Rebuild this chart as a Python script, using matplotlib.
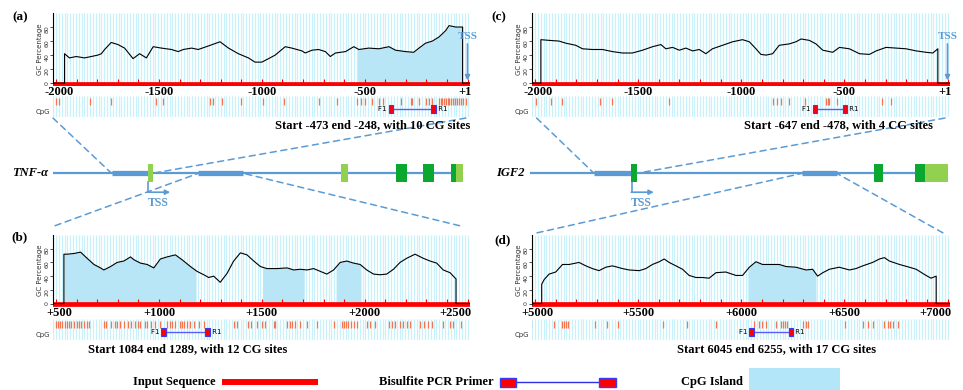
import numpy as np
import matplotlib.pyplot as plt
from matplotlib.patches import Rectangle, ConnectionPatch

W, H = 963, 390
SERIF = 'Liberation Serif'
BLUE = '#5b9bd5'
STRIPE = '#c9f1fb'
ISLAND = '#b9e6f6'
CPG_RED = '#f47650'
EXON_COL = {'coding': '#0aa82e', 'utr': '#92d050'}

# ---- (a) TNF-a promoter, -2000..+1 ----
a_pos = [-1959, -1935, -1902, -1862, -1829, -1797, -1780, -1764, -1732, -1699,
         -1667, -1626, -1594, -1561, -1528, -1488, -1439, -1406, -1382, -1341,
         -1309, -1260, -1203, -1162, -1114, -1065, -1033, -1000, -967, -935,
         -886, -854, -805, -789, -756, -724, -691, -667, -642, -593,
         -553, -528, -480, -431, -382, -350, -301, -262, -236, -204,
         -171, -138, -106, -90, -57, -24]
a_gc = [42, 36, 38, 36, 38, 40, 42, 48, 58, 55,
        50, 35, 42, 36, 52, 50, 48, 45, 48, 50,
        48, 53, 59, 50, 42, 36, 30, 30, 35, 40,
        52, 50, 46, 43, 47, 48, 45, 38, 43, 45,
        52, 48, 50, 49, 52, 47, 45, 44, 50, 57,
        60, 66, 75, 82, 80, 80]
a_islands = [(-537, -24)]
a_cpg = [-2000, -1984, -1837, -1732, -1512, -1480, -1252, -1236, -1195, -1102,
         -992, -894, -724, -634, -537, -520, -496, -463, -430, -410, -325, -277,
         -268, -236, -203, -187, -171, -138, -130, -122, -114, -106, -96, -88,
         -80, -70, -62, -52, -40, -30, -20, -8]
a_primer = (-382, -363, -176, -155)
a_ticks = [-2000, -1500, -1000, -500, 0]
a_labels = ['-2000', '-1500', '-1000', '-500', '+1']
a_note = 'Start -473 end -248, with 10 CG sites'

# ---- (b) TNF-a gene body, +500..+2500 ----
b_pos = [538, 554, 587, 619, 651, 684, 716, 732, 765, 797,
         829, 862, 878, 910, 943, 975, 1007, 1039, 1080, 1112,
         1153, 1185, 1218, 1242, 1266, 1298, 1331, 1363, 1396, 1428,
         1461, 1493, 1525, 1574, 1623, 1655, 1687, 1720, 1752, 1784,
         1816, 1849, 1881, 1913, 1946, 1978, 2010, 2043, 2075, 2107,
         2140, 2172, 2204, 2245, 2285, 2318, 2350, 2382, 2415, 2434, 2444]
b_gc = [72, 72, 73, 75, 66, 57, 52, 49, 54, 60,
        62, 68, 64, 59, 57, 52, 65, 68, 71, 64,
        54, 47, 42, 38, 40, 31, 44, 62, 74, 71,
        62, 54, 51, 51, 52, 49, 50, 49, 51, 47,
        43, 49, 60, 62, 59, 57, 49, 43, 42, 43,
        50, 60, 66, 72, 66, 62, 59, 49, 45, 39, 36]
b_islands = [(538, 1180), (1504, 1706), (1861, 1982)]
b_cpg = [498, 509, 519, 530, 541, 551, 562, 574, 587, 600, 611, 622, 635, 648, 659,
         735, 745, 765, 784, 797, 813, 829, 849, 862, 886, 897, 910, 930, 943, 959,
         983, 1007, 1040, 1053, 1064, 1080, 1101, 1113, 1124, 1137, 1150, 1172,
         1193, 1218, 1363, 1379, 1431, 1447, 1477, 1501, 1517, 1557, 1565, 1622,
         1635, 1646, 1663, 1687, 1719, 1768, 1849, 1889, 1900, 1910, 1921, 1933,
         1946, 1962, 2010, 2027, 2051, 2116, 2132, 2148, 2172, 2188, 2205, 2221,
         2269, 2286, 2310, 2326, 2383, 2415, 2431, 2467]
b_primer = (1012, 1035, 1224, 1247)
b_ticks = [500, 1000, 1500, 2000, 2500]
b_labels = ['+500', '+1000', '+1500', '+2000', '+2500']
b_note = 'Start 1084 end 1289, with 12 CG sites'

# ---- (c) IGF2 promoter, -2000..+1 ----
c_pos = [-1972, -1932, -1884, -1851, -1803, -1770, -1722, -1673, -1625, -1576,
         -1528, -1479, -1430, -1390, -1366, -1333, -1301, -1269, -1236, -1204,
         -1172, -1140, -1091, -1042, -994, -961, -929, -905, -880, -848,
         -816, -767, -735, -710, -670, -638, -605, -557, -524, -476,
         -427, -379, -346, -298, -249, -201, -152, -104, -71, -47]
c_gc = [62, 61, 60, 57, 54, 49, 48, 48, 45, 43,
        43, 47, 52, 55, 49, 51, 47, 50, 46, 48,
        42, 49, 54, 59, 62, 59, 49, 41, 40, 42,
        54, 56, 59, 63, 61, 56, 47, 44, 51, 49,
        42, 41, 46, 51, 50, 49, 46, 44, 43, 49]
c_islands = []
c_cpg = [-1998, -1924, -1871, -1686, -1625, -1350, -848, -827, -808, -767, -689,
         -589, -581, -573, -537, -319, -274]
c_primer = (-654, -633, -508, -487)
c_note = 'Start -647 end -478, with 4 CG sites'

# ---- (d) IGF2 gene body, +5000..+7000 ----
d_pos = [5032, 5044, 5068, 5100, 5133, 5165, 5213, 5246, 5278, 5310,
         5343, 5375, 5424, 5456, 5505, 5537, 5569, 5602, 5626, 5650,
         5683, 5715, 5747, 5780, 5812, 5844, 5877, 5925, 5974, 6006,
         6039, 6071, 6103, 6152, 6184, 6217, 6265, 6314, 6346, 6370,
         6395, 6427, 6475, 6524, 6556, 6589, 6637, 6670, 6694, 6718,
         6767, 6815, 6848, 6896, 6920, 6945]
d_gc = [28, 35, 43, 46, 57, 57, 60, 55, 51, 48,
        53, 55, 51, 49, 48, 51, 57, 61, 65, 60,
        55, 50, 41, 38, 38, 37, 45, 46, 41, 41,
        53, 61, 57, 57, 57, 54, 53, 49, 50, 40,
        45, 50, 53, 49, 51, 55, 60, 65, 67, 62,
        57, 53, 50, 41, 37, 40]
d_islands = [(6035, 6362)]
d_cpg = [4979, 5092, 5129, 5140, 5152, 5161, 5291, 5351, 5404, 5618, 5739, 5877,
         6063, 6084, 6100, 6119, 6168, 6192, 6203, 6213, 6221, 6297, 6313, 6323,
         6504, 6588, 6613, 6637, 6694, 6710, 6721, 6734, 6758]
d_primer = (6039, 6061, 6229, 6249)
d_ticks = [5000, 5500, 6000, 6500, 7000]
d_labels = ['+5000', '+5500', '+6000', '+6500', '+7000']
d_note = 'Start 6045 end 6255, with 17 CG sites'

# ---- gene schematics (relative units 0..100) ----
tnf_thick = [(14.2, 23.2), (35.4, 46.3)]
tnf_exon_start = [23.2, 70.1, 83.7, 90.2, 96.9, 98.2]
tnf_exon_end = [24.2, 71.9, 86.3, 92.9, 98.2, 100]
tnf_exon_kind = ['utr', 'utr', 'coding', 'coding', 'coding', 'utr']
tnf_tss = 23.2

igf_thick = [(15.3, 24.3), (65.1, 73.3)]
igf_exon_start = [24.2, 82.3, 92.1, 94.5]
igf_exon_end = [25.6, 84.3, 94.5, 100]
igf_exon_kind = ['coding', 'coding', 'coding', 'utr']
igf_tss = 24.3

fig = plt.figure(figsize=(W / 100, H / 100), dpi=100)


def px_axes(l, t, r, b):
    return fig.add_axes([l / W, 1 - b / H, (r - l) / W, (b - t) / H])


def fig_text(x, y, s, **kw):
    fig.text(x / W, 1 - y / H, s, **kw)


def stripes(ax, start):
    ax.vlines(np.arange(start - 14, start + 2014, 13.8), 0, 1,
              transform=ax.get_xaxis_transform(), color=STRIPE, lw=0.9, zorder=0)


def gc_panel(box, cpg_box, start, pos, gc, islands, cpg, primer, ticks, labels):
    ax = px_axes(*box)
    x0, x1 = start - 15, start + 2012
    ax.set_xlim(x0, x1)
    ax.set_ylim(-4.3, 100)
    stripes(ax, start)
    for s, e in islands:
        xi = np.linspace(s, e, 300)
        ax.fill_between(xi, 0, np.interp(xi, pos, gc), color=ISLAND, lw=0, zorder=1)
    ax.vlines(np.arange(start, start + 2001, 100), 0, 6, color='red', lw=0.8, zorder=2)
    ax.axhline(-1, color='red', lw=3.4, zorder=2)
    xs = [x0, pos[0]] + list(pos) + [pos[-1], x1]
    ys = [0, 0] + list(gc) + [0, 0]
    ax.plot(xs, ys, color='black', lw=0.8, zorder=3)

    for sp in ['top', 'right', 'bottom']:
        ax.spines[sp].set_visible(False)
    ax.spines['left'].set_linewidth(0.8)
    ax.spines['left'].set_bounds(0, 100)
    ax.set_xticks([])
    ax.set_yticks([0, 20, 40, 60, 80])
    ax.tick_params(axis='y', length=2, width=0.6, pad=0.5, labelsize=4.5,
                   labelrotation=90, colors='#333333')
    ax.set_ylabel('GC Percentage', fontsize=5, labelpad=1, color='#333333')

    for i, (tk, lab) in enumerate(zip(ticks, labels)):
        ha, dx = 'center', 0
        if i == 0:
            dx = 2
        if i == len(ticks) - 1:
            ha, dx = 'right', 3
        ax.annotate(lab, xy=(tk, 0), xycoords=('data', 'axes fraction'),
                    xytext=(dx, 0), textcoords='offset points', ha=ha, va='top',
                    fontsize=9, fontweight='bold', family=SERIF, annotation_clip=False)

    cx = px_axes(*cpg_box)
    cx.set_xlim(x0, x1)
    cx.set_ylim(1, 0)
    cx.axis('off')
    stripes(cx, start)
    cx.vlines(cpg, 0.1, 0.42, color=CPG_RED, lw=0.9, zorder=2)
    f0, f1, r0, r1 = primer
    cx.plot([(f0 + f1) / 2, (r0 + r1) / 2], [0.62, 0.62], color='#5b5bff', lw=1, zorder=3)
    for s, e in [(f0, f1), (r0, r1)]:
        cx.add_patch(Rectangle((s, 0.45), e - s, 0.35, fc='red', ec='#3a3aff',
                               lw=0.8, zorder=4))
    cx.text(f0, 0.62, 'F1 ', ha='right', va='center', fontsize=5)
    cx.text(r1, 0.62, ' R1', ha='left', va='center', fontsize=5)
    cx.text(-0.008, 0.26, 'CpG', transform=cx.transAxes, ha='right', va='center',
            fontsize=5, color='#333333')
    return ax, cx


def add_tss(ax):
    ax.annotate('', xy=(0, 4), xytext=(0, 56),
                arrowprops=dict(arrowstyle='-|>', color=BLUE, lw=1.2,
                                mutation_scale=7, shrinkA=0, shrinkB=0),
                annotation_clip=False)
    ax.text(0, 66, 'TSS', color=BLUE, ha='center', va='center', fontsize=8,
            fontweight='bold', family=SERIF, clip_on=False)


def gene(box, name, thick, ex_s, ex_e, kind, tss):
    ax = px_axes(*box)
    ax.set_xlim(0, 100)
    ax.set_ylim(-4.63, 3.14)
    ax.axis('off')
    ax.plot([0, 100], [0, 0], color=BLUE, lw=1.6, solid_capstyle='butt', zorder=1)
    for s, e in thick:
        ax.plot([s, e], [0, 0], color=BLUE, lw=3.8, solid_capstyle='butt', zorder=2)
    for s, e, k in zip(ex_s, ex_e, kind):
        ax.add_patch(Rectangle((s, -1), e - s, 2, color=EXON_COL[k], lw=0, zorder=3))
    ax.plot([tss, tss], [-1, -2.1], color=BLUE, lw=1.2, zorder=2)
    ax.annotate('', xy=(tss + 5.3, -2.1), xytext=(tss - 0.1, -2.1),
                arrowprops=dict(arrowstyle='-|>', color=BLUE, lw=1.2,
                                mutation_scale=7, shrinkA=0, shrinkB=0))
    ax.text(tss + 2.4, -3.3, 'TSS', color=BLUE, ha='center', va='center',
            fontsize=8.5, fontweight='bold', family=SERIF)
    ax.text(-0.012, 0, name, transform=ax.get_yaxis_transform(), ha='right',
            va='center', fontsize=9, fontweight='bold', fontstyle='italic', family=SERIF)
    return ax


def connect(axA, xyA, axB, xyB):
    con = ConnectionPatch(xyA=xyA, coordsA=axA.transAxes, xyB=xyB, coordsB=axB.transData,
                          color=BLUE, lw=1.1, linestyle=(0, (4, 3)))
    fig.add_artist(con)


ax_a, cx_a = gc_panel((53, 13, 470, 86.2), (53, 96, 470, 117), -2000, a_pos, a_gc,
                      a_islands, a_cpg, a_primer, a_ticks, a_labels)
ax_c, cx_c = gc_panel((532, 13, 950, 86.2), (532, 96, 950, 117), -2000, c_pos, c_gc,
                      c_islands, c_cpg, c_primer, a_ticks, a_labels)
ax_b, cx_b = gc_panel((53, 235, 470, 306.5), (53, 319, 470, 340), 500, b_pos, b_gc,
                      b_islands, b_cpg, b_primer, b_ticks, b_labels)
ax_d, cx_d = gc_panel((532, 235, 950, 306.5), (532, 319, 950, 340), 5000, d_pos, d_gc,
                      d_islands, d_cpg, d_primer, d_ticks, d_labels)
add_tss(ax_a)
add_tss(ax_c)

g_tnf = gene((53.3, 145, 463.3, 215), 'TNF-α', tnf_thick, tnf_exon_start, tnf_exon_end,
             tnf_exon_kind, tnf_tss)
g_igf = gene((530, 145, 948.3, 215), 'IGF2', igf_thick, igf_exon_start, igf_exon_end,
             igf_exon_kind, igf_tss)

connect(cx_a, (0, -0.05), g_tnf, (tnf_thick[0][0], 0))
connect(cx_a, (0.99, -0.05), g_tnf, (tnf_exon_end[0], 0))
connect(ax_b, (0.005, 1.13), g_tnf, (tnf_thick[1][0], 0))
connect(ax_b, (0.975, 1.13), g_tnf, (tnf_thick[1][1], 0))
connect(cx_c, (0.011, -0.05), g_igf, (igf_thick[0][0], 0))
connect(cx_c, (0.988, -0.05), g_igf, (igf_exon_end[0], 0))
connect(ax_d, (0.012, 1.03), g_igf, (igf_thick[1][0], 0))
connect(ax_d, (0.983, 1.03), g_igf, (igf_thick[1][1], 0))

bold = dict(fontweight='bold', family=SERIF)
fig_text(20, 17, '(a)', ha='center', va='center', fontsize=9.5, **bold)
fig_text(499, 17, '(c)', ha='center', va='center', fontsize=9.5, **bold)
fig_text(19, 237, '(b)', ha='center', va='center', fontsize=9.5, **bold)
fig_text(503, 240, '(d)', ha='center', va='center', fontsize=9.5, **bold)
fig_text(470, 125, a_note, ha='right', va='center', fontsize=9, **bold)
fig_text(933, 125, c_note, ha='right', va='center', fontsize=9, **bold)
fig_text(88, 349, b_note, ha='left', va='center', fontsize=9, **bold)
fig_text(677, 349, d_note, ha='left', va='center', fontsize=9, **bold)

# legend row
lax = px_axes(0, 360, W, H)
lax.set_xlim(0, W)
lax.set_ylim(H, 360)
lax.axis('off')
lax.text(216, 382, 'Input Sequence', ha='right', va='center', fontsize=9, **bold)
lax.plot([222, 318], [382, 382], color='red', lw=4.3, solid_capstyle='butt')
lax.text(494, 382, 'Bisulfite PCR Primer', ha='right', va='center', fontsize=9, **bold)
lax.plot([508, 607], [382, 382], color='#2e2ee6', lw=1)
lax.add_patch(Rectangle((500, 377.7), 16, 9, fc='red', ec='#3a3aff', lw=1, zorder=3))
lax.add_patch(Rectangle((599, 377.7), 17, 9, fc='red', ec='#3a3aff', lw=1, zorder=3))
lax.text(743, 382, 'CpG Island', ha='right', va='center', fontsize=9, **bold)
lax.add_patch(Rectangle((749, 368), 91, 22, fc='#b3e6f8', lw=0))

fig.savefig('out.png', dpi=100)
